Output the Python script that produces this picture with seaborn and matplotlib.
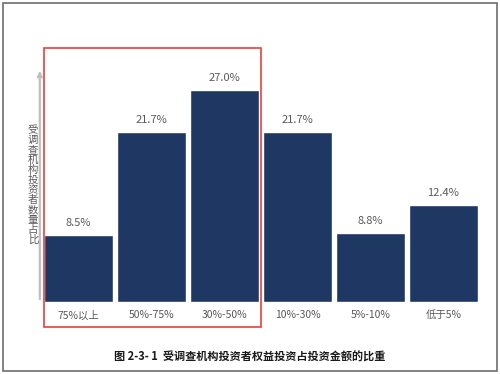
import matplotlib
matplotlib.use("Agg")
import matplotlib.pyplot as plt
import seaborn as sns
import pandas as pd
from matplotlib.patches import Rectangle

# data
categories = ["75%以上", "50%-75%", "30%-50%", "10%-30%", "5%-10%", "低于5%"]
shares = [8.5, 21.7, 27.0, 21.7, 8.8, 12.4]
ylabel_text = "受调查机构投资者数量占比"
caption = "图 2-3- 1  受调查机构投资者权益投资占投资金额的比重"

sns.set_theme(style="white")
plt.rcParams["font.family"] = ["Noto Sans CJK SC", "DejaVu Sans"]

df = pd.DataFrame({"cat": categories, "share": shares})

fig = plt.figure(figsize=(5, 3.74), dpi=100)
ax = fig.add_axes([42 / 500, 1 - 302 / 374, 438 / 500, (302 - 68) / 374])

sns.barplot(data=df, x="cat", y="share", color="#1F3763", saturation=1,
            width=0.94, ax=ax)
ax.bar_label(ax.containers[0], labels=[f"{v:.1f}%" for v in shares],
             padding=5, fontsize=8, color="#595959")

ax.set_xlim(-0.5, 5.5)
ax.set_ylim(0, 29.8)
ax.set_yticks([])
ax.set_xlabel("")
ax.set_ylabel("")
ax.tick_params(axis="x", length=0, pad=6, labelsize=7.5, labelcolor="#595959")
for s in ax.spines.values():
    s.set_visible(False)

# y axis drawn as a light grey arrow
ax.annotate("", xy=(-0.005, 1.0), xytext=(-0.005, 0.0), xycoords="axes fraction",
            arrowprops=dict(arrowstyle="-|>", color="#BFBFBF", lw=1.6,
                            mutation_scale=7), annotation_clip=False)

# stacked vertical axis title
fig.text(33 / 500, 1 - 185 / 374, "\n".join(ylabel_text), ha="center", va="center",
         fontsize=7.5, color="#595959", linespacing=1.0)

# red highlight box around the first three categories
fig.patches.append(Rectangle((44 / 500, 1 - 327 / 374), 217 / 500, 279 / 374,
                             transform=fig.transFigure, fill=False,
                             edgecolor="#E8423A", lw=1.2))

# outer frame
fig.patches.append(Rectangle((3 / 500, 3 / 374), 494 / 500, 368 / 374,
                             transform=fig.transFigure, fill=False,
                             edgecolor="#6E6E6E", lw=1.2))

fig.text(0.5, 1 - 357 / 374, caption, ha="center", va="center",
         fontsize=8, fontweight="bold", color="#1A1A1A")

fig.savefig("out.png", dpi=100)
